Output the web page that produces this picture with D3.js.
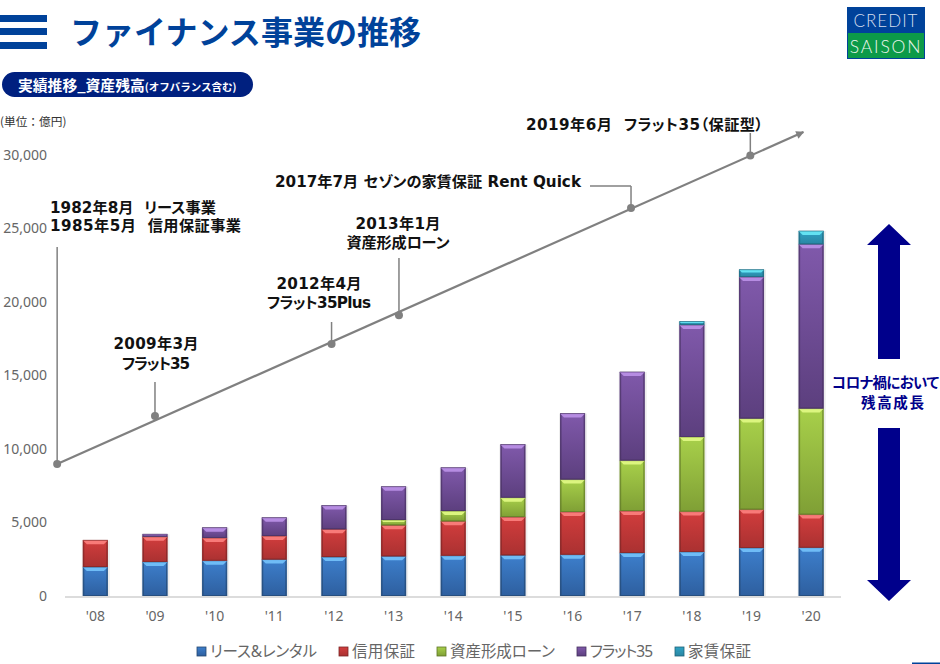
<!DOCTYPE html>
<html lang="ja">
<head>
<meta charset="utf-8">
<script src="https://cdn.jsdelivr.net/npm/d3@7"></script>
<style>
  html, body { margin: 0; padding: 0; background: #fff; }
  svg { display: block; }
  text { font-family: "DejaVu Sans", "Noto Sans CJK JP", sans-serif; font-feature-settings: "palt"; }
  .soft text, text.soft { font-family: "Noto Sans", "Noto Sans CJK JP", sans-serif; }
</style>
</head>
<body>
<svg id="chart" width="940" height="664"></svg>
<script>
// Chart data (unit: 100M yen)
const years = ["'08", "'09", "'10", "'11", "'12", "'13", "'14", "'15", "'16", "'17", "'18", "'19", "'20"];
const seriesNames = ["リース&レンタル", "信用保証", "資産形成ローン", "フラット35", "家賃保証"];
const lease = [1970, 2320, 2400, 2480, 2650, 2700, 2740, 2770, 2810, 2930, 3000, 3270, 3290];
const guarantee = [1820, 1710, 1550, 1600, 1890, 2110, 2340, 2600, 2910, 2850, 2740, 2610, 2250];
const assetLoan = [0, 0, 0, 0, 0, 360, 700, 1320, 2200, 3430, 5080, 6190, 7210];
const flat35 = [0, 170, 700, 1250, 1610, 2270, 2950, 3610, 4490, 6030, 7620, 9630, 11180];
const rent = [0, 0, 0, 0, 0, 0, 0, 0, 0, 0, 230, 500, 900];
const yTicks = [0, 5000, 10000, 15000, 20000, 25000, 30000];

// Timeline milestones: position in axis years (0 = '08) and height in axis value
const milestoneYear = [-0.64, 1, 3.96, 5.09, 8.98, 10.98];
const milestoneValue = [8980, 12240, 17140, 19100, 26390, 29970];
const timelineYear = [-0.64, 11.87];
const timelineValue = [8980, 31560];

const palette = [
  { top: "#3d7fcc", bottom: "#2e5f9f", bevel: "#6fbcf6", edge: "#24466f" },
  { top: "#d23d3d", bottom: "#aa3131", bevel: "#f87a78", edge: "#7a2525" },
  { top: "#a8d04a", bottom: "#7f9f35", bevel: "#dcf57f", edge: "#5d7426" },
  { top: "#8059ab", bottom: "#5c3f7e", bevel: "#b68ce2", edge: "#45305e" },
  { top: "#2fa3c4", bottom: "#2a86a3", bevel: "#63e2f2", edge: "#1e6278" }
];

const svg = d3.select("#chart");
const defs = svg.append("defs");

palette.forEach((c, i) => {
  const grad = defs.append("linearGradient")
    .attr("id", `barFill${i}`)
    .attr("x1", 0).attr("y1", 0).attr("x2", 0).attr("y2", 1);
  grad.append("stop").attr("offset", "0%").attr("stop-color", c.top);
  grad.append("stop").attr("offset", "100%").attr("stop-color", c.bottom);
});

const x = d3.scaleBand()
  .domain(years)
  .range([65.5, 841])
  .paddingInner(0.58)
  .paddingOuter(0.29);
const y = d3.scaleLinear().domain([0, 30000]).range([596, 155]);

// Continuous x for the timeline, 0 = center of the first bar
const xTime = d3.scaleLinear()
  .domain([0, years.length - 1])
  .range([x(years[0]) + x.bandwidth() / 2, x(years[years.length - 1]) + x.bandwidth() / 2]);

// Header
const blue = "#00429a";
svg.append("g").selectAll("rect")
  .data([15, 28, 42])
  .join("rect")
  .attr("x", 0).attr("y", d => d).attr("width", 47).attr("height", 7)
  .attr("fill", blue);

svg.append("text")
  .attr("x", 70).attr("y", 44)
  .attr("fill", blue)
  .attr("font-size", 32)
  .attr("font-weight", 700)
  .attr("textLength", 351)
  .style("font-family", '"Noto Sans CJK JP"')
  .style("font-feature-settings", "normal")
  .text("ファイナンス事業の推移");

svg.append("rect")
  .attr("x", 2).attr("y", 72).attr("width", 251).attr("height", 25).attr("rx", 12.5)
  .attr("fill", "#00207f");
const pill = svg.append("text")
  .attr("x", 18).attr("y", 91)
  .attr("fill", "#fff")
  .attr("font-weight", 700)
  .style("font-family", '"Noto Sans CJK JP"')
  .style("font-feature-settings", "normal");
pill.append("tspan").attr("font-size", 14.8).text("実績推移_資産残高");
pill.append("tspan").attr("font-size", 10.5).text("(オフバランス含む)");

svg.append("text")
  .attr("x", 0).attr("y", 126)
  .attr("fill", "#333")
  .attr("font-size", 11.7)
  .style("font-family", '"Noto Sans CJK JP"')
  .style("font-feature-settings", "normal")
  .text("(単位：億円)");

// Logo
const logo = svg.append("g").attr("transform", "translate(847,7)");
logo.append("rect").attr("width", 78).attr("height", 52).attr("fill", blue);
logo.append("rect").attr("x", 1).attr("y", 26).attr("width", 76).attr("height", 25).attr("fill", "#0c9a48");
logo.append("text")
  .attr("x", 39).attr("y", 20).attr("text-anchor", "middle")
  .attr("fill", "#d5deef").attr("font-size", 17).attr("letter-spacing", 1)
  .style("font-family", '"Lato"').style("font-weight", 300)
  .text("CREDIT");
logo.append("text")
  .attr("x", 39).attr("y", 46).attr("text-anchor", "middle")
  .attr("fill", "#eef6ee").attr("font-size", 17.5).attr("letter-spacing", 1.8)
  .style("font-family", '"Lato"').style("font-weight", 300)
  .text("SAISON");

// Axes
const yAxis = svg.append("g")
  .attr("class", "soft")
  .attr("transform", "translate(51,0)")
  .call(d3.axisLeft(y).tickValues(yTicks).tickFormat(d3.format(",")).tickSize(0).tickPadding(4));
yAxis.select(".domain").remove();
yAxis.selectAll("text").attr("font-size", 14).attr("fill", "#666");

const xAxis = svg.append("g")
  .attr("class", "soft")
  .attr("transform", `translate(0,${y(0)})`)
  .call(d3.axisBottom(x).tickSize(0).tickPadding(15));
xAxis.select(".domain").remove();
xAxis.selectAll("text").attr("font-size", 14).attr("fill", "#666");

// Stacked bars
const table = years.map((year, i) => ({
  year,
  [seriesNames[0]]: lease[i],
  [seriesNames[1]]: guarantee[i],
  [seriesNames[2]]: assetLoan[i],
  [seriesNames[3]]: flat35[i],
  [seriesNames[4]]: rent[i]
}));
const stacked = d3.stack().keys(seriesNames)(table);

const segments = stacked.flatMap((layer, s) =>
  layer.filter(d => d[1] > d[0]).map(d => ({ s, year: d.data.year, y0: d[0], y1: d[1] })));

// soft shadow next to each bar
svg.append("g").selectAll("rect")
  .data(table)
  .join("rect")
  .attr("x", d => x(d.year) - 1)
  .attr("y", d => y(d3.sum(seriesNames, k => d[k])))
  .attr("width", x.bandwidth() + 3)
  .attr("height", d => y(0) - y(d3.sum(seriesNames, k => d[k])))
  .attr("fill", "#000")
  .attr("opacity", 0.07);

const seg = svg.append("g").selectAll("g")
  .data(segments)
  .join("g");

seg.append("rect")
  .attr("x", d => x(d.year))
  .attr("y", d => y(d.y1))
  .attr("width", x.bandwidth())
  .attr("height", d => y(d.y0) - y(d.y1))
  .attr("fill", d => `url(#barFill${d.s})`);

// bevel: darker edges on the sides and the bottom, light one on top
seg.append("path")
  .attr("fill", d => palette[d.s].edge)
  .attr("opacity", 0.65)
  .attr("d", d => {
    const l = x(d.year), r = l + x.bandwidth(), t = y(d.y1), b = y(d.y0);
    return `M${l},${t}L${l + 1.5},${t}L${l + 1.5},${b - 1}L${r - 1.5},${b - 1}L${r - 1.5},${t}L${r},${t}L${r},${b}L${l},${b}Z`;
  });
seg.append("path")
  .attr("fill", d => palette[d.s].bevel)
  .attr("d", d => {
    const l = x(d.year), r = l + x.bandwidth(), t = y(d.y1);
    const h = Math.min(4, (y(d.y0) - t) * 0.4);
    return `M${l},${t}L${r},${t}L${r - h},${t + h}L${l + h},${t + h}Z`;
  });
seg.append("rect")
  .attr("x", d => x(d.year))
  .attr("y", d => y(d.y1) - 0.5)
  .attr("width", x.bandwidth())
  .attr("height", 1)
  .attr("fill", d => palette[d.s].edge)
  .attr("opacity", 0.65);

svg.append("line")
  .attr("x1", 65).attr("x2", 841)
  .attr("y1", y(0) + 1).attr("y2", y(0) + 1)
  .attr("stroke", "#dcdcdc").attr("stroke-width", 2);

// Timeline
const lineGray = "#808080";
defs.append("marker")
  .attr("id", "timelineArrow")
  .attr("viewBox", "0 0 10 10")
  .attr("refX", 9).attr("refY", 5)
  .attr("markerWidth", 10).attr("markerHeight", 8)
  .attr("markerUnits", "userSpaceOnUse")
  .attr("orient", "auto")
  .append("path").attr("d", "M0,0L10,5L0,10Z").attr("fill", lineGray);

svg.append("path")
  .attr("d", d3.line().x(d => xTime(d[0])).y(d => y(d[1]))(d3.zip(timelineYear, timelineValue)))
  .attr("fill", "none")
  .attr("stroke", lineGray)
  .attr("stroke-width", 2.2)
  .attr("marker-end", "url(#timelineArrow)");

svg.append("g").selectAll("circle")
  .data(d3.zip(milestoneYear, milestoneValue))
  .join("circle")
  .attr("cx", d => xTime(d[0]))
  .attr("cy", d => y(d[1]))
  .attr("r", 4)
  .attr("fill", lineGray);

// Leader lines go from each milestone up to the top pixel given here
const leaderTops = [247, 382, 322, 258, 186, 133];
svg.append("g").selectAll("line")
  .data(d3.zip(milestoneYear, milestoneValue, leaderTops))
  .join("line")
  .attr("x1", d => xTime(d[0])).attr("x2", d => xTime(d[0]))
  .attr("y1", d => y(d[1])).attr("y2", d => d[2])
  .attr("stroke", lineGray).attr("stroke-width", 1.5);
svg.append("line")
  .attr("x1", xTime(milestoneYear[4])).attr("x2", 590)
  .attr("y1", 186).attr("y2", 186)
  .attr("stroke", lineGray).attr("stroke-width", 1.5);

// Milestone labels
const labels = [
  { t: "2019年6月  フラット35（保証型）", x: 526, y: 130, a: "start", w: 237 },
  { t: "2017年7月 セゾンの家賃保証 Rent Quick", x: 275, y: 187, a: "start", w: 306 },
  { t: "1982年8月  リース事業", x: 50, y: 213, a: "start", w: 166 },
  { t: "1985年5月  信用保証事業", x: 50, y: 231, a: "start", w: 191 },
  { t: "2013年1月", x: 398, y: 229, a: "middle", w: 85 },
  { t: "資産形成ローン", x: 398, y: 248, a: "middle", w: 103 },
  { t: "2012年4月", x: 319, y: 289, a: "middle", w: 85 },
  { t: "フラット35Plus", x: 319, y: 308, a: "middle", w: 104 },
  { t: "2009年3月", x: 156, y: 349, a: "middle", w: 85 },
  { t: "フラット35", x: 156, y: 369, a: "middle", w: 68 }
];
svg.append("g").selectAll("text")
  .data(labels)
  .join("text")
  .attr("x", d => d.x).attr("y", d => d.y)
  .attr("text-anchor", d => d.a)
  .attr("font-size", 15.2)
  .attr("font-weight", 700)
  .attr("fill", "#111")
  .attr("textLength", d => d.w)
  .style("white-space", "pre")
  .text(d => d.t);

// Growth arrows
const navy = "#00008b";
svg.append("path")
  .attr("d", "M889,224L911,245L900,245L900,359L878,359L878,245L867,245Z")
  .attr("fill", navy);
svg.append("path")
  .attr("d", "M878,428L900,428L900,580L911,580L889,601L867,580L878,580Z")
  .attr("fill", navy);
svg.append("g").selectAll("text")
  .data([{ t: "コロナ禍において", x: 832, y: 388, w: 107 }, { t: "残高成長", x: 861, y: 408, w: 63 }])
  .join("text")
  .attr("x", d => d.x).attr("y", d => d.y)
  .attr("fill", navy)
  .attr("font-size", 14.5)
  .attr("font-weight", 700)
  .attr("textLength", d => d.w)
  .style("font-family", '"Noto Sans CJK JP"')
  .text(d => d.t);

// Legend
const legendX = [197, 339, 437, 577, 675];
const legendWidth = [107, 63, 105, 63, 63];
const legend = svg.append("g").selectAll("g")
  .data(seriesNames)
  .join("g")
  .attr("transform", (d, i) => `translate(${legendX[i]},647)`);
legend.append("rect")
  .attr("width", 9).attr("height", 9)
  .attr("fill", (d, i) => `url(#barFill${i})`)
  .attr("stroke", (d, i) => palette[i].edge)
  .attr("stroke-width", 0.8);
legend.append("text")
  .attr("x", 13).attr("y", 10)
  .attr("font-size", 15.5)
  .attr("fill", "#666")
  .attr("textLength", (d, i) => legendWidth[i])
  .style("font-family", '"Noto Sans", "Noto Sans CJK JP"')
  .text(d => d);

// Footer rule in the corner
svg.append("rect")
  .attr("x", 912).attr("y", 662.5).attr("width", 28).attr("height", 1.5)
  .attr("fill", blue);
</script>
</body>
</html>
